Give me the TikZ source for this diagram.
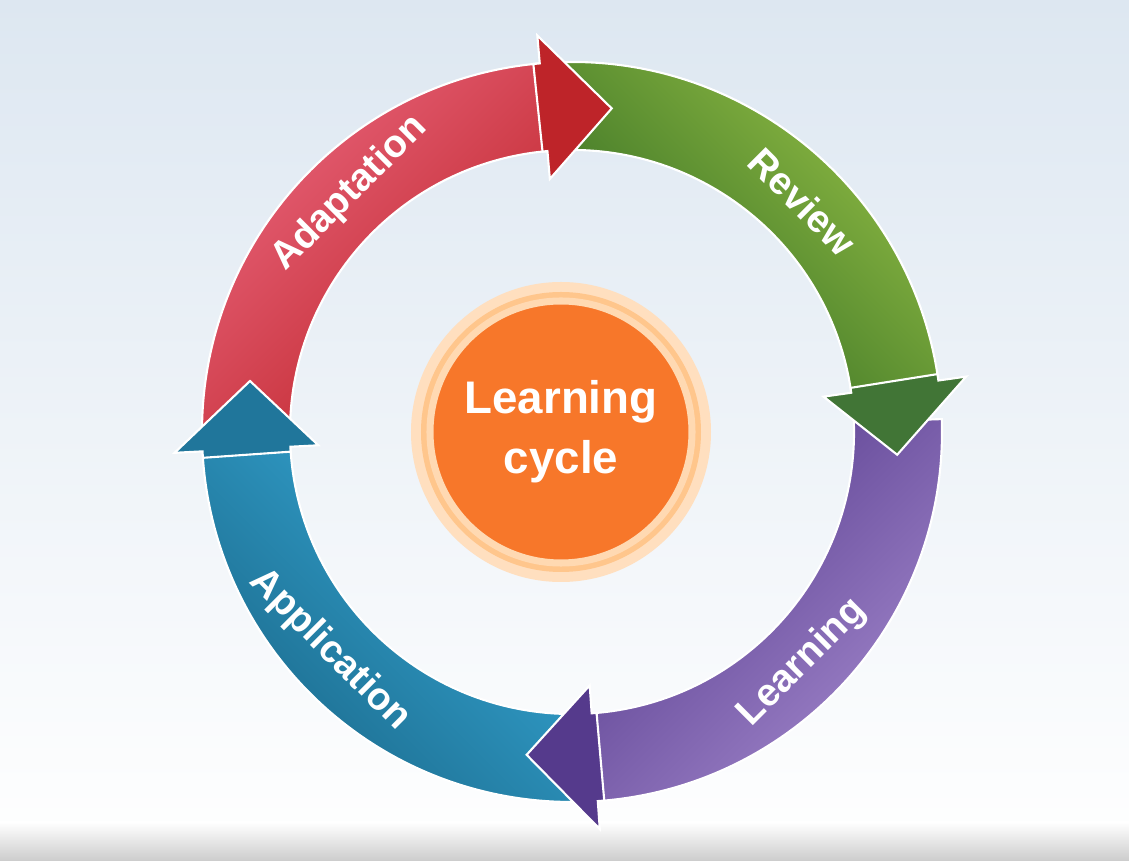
\documentclass[tikz,border=0pt]{standalone}
\usepackage{fontspec}
\setmainfont{Liberation Sans}
\begin{document}
\begin{tikzpicture}[x=0.02cm,y=0.02cm]
\definecolor{bgA}{HTML}{DDE7F1}
\definecolor{grA}{HTML}{93BE45}\definecolor{grB}{HTML}{2C6620}
\definecolor{puA}{HTML}{A186CB}\definecolor{puB}{HTML}{553A8C}
\definecolor{blA}{HTML}{36A8D6}\definecolor{blB}{HTML}{1B6A8C}
\definecolor{reA}{HTML}{E8637A}\definecolor{reB}{HTML}{BE2429}
\definecolor{orA}{HTML}{F7772A}
\tikzset{lab/.style={text=white,font=\bfseries\fontsize{22}{24}\selectfont}}
\newcommand{\cyclebody}[5]{%
 \path[draw=white,line width=1.2pt,left color=#4,right color=#5,shading angle=#3]
  (#1:370) arc (#1:#2:370) -- (#2:282) arc (#2:#1:282) -- cycle;}
\newcommand{\cyclehead}[2]{%
 \path[draw=white,line width=1.2pt,fill=#2]
  ({#1+1}:370) -- (#1:370) -- (#1:398) -- ({#1-12}:326) -- (#1:254) -- (#1:282) -- ({#1+1}:282) -- cycle;}
\shade[top color=bgA,bottom color=white] (-572,-429) rectangle (557,432);
\shade[top color=white,bottom color=gray!40] (-572,-429) rectangle (557,-390);
\useasboundingbox (-572,-429) rectangle (557,432);
\cyclebody{96}{8}{-45}{grA}{grB}
\cyclebody{2}{-86}{45}{puB}{puA}
\cyclebody{-90}{-177}{-45}{blA}{blB}
\cyclebody{180}{95}{45}{reA}{reB}
\cyclehead{8}{grB!90}
\cyclehead{-86}{puB}
\cyclehead{-177}{blB!80!blA}
\cyclehead{95}{reB}
\node[lab,rotate=-45] (rev) at (45:326) {Review};
\node[lab,rotate=45] (lea) at (-45:326) {Learning};
\node[lab,rotate=-45] (app) at (222:326) {Application};
\node[lab,rotate=45] (ada) at (133:326) {Adaptation};
\fill[orange!25] (-11,0) circle (150);
\fill[orange!45] (-11,0) circle (140);
\node[circle,fill=orA,draw=orange!30,line width=4pt,minimum size=262*0.02cm,
 text=white,align=center,font=\bfseries\fontsize{26}{34}\selectfont] (c) at (-11,0)
 {Learning\\cycle};
\end{tikzpicture}
\end{document}
